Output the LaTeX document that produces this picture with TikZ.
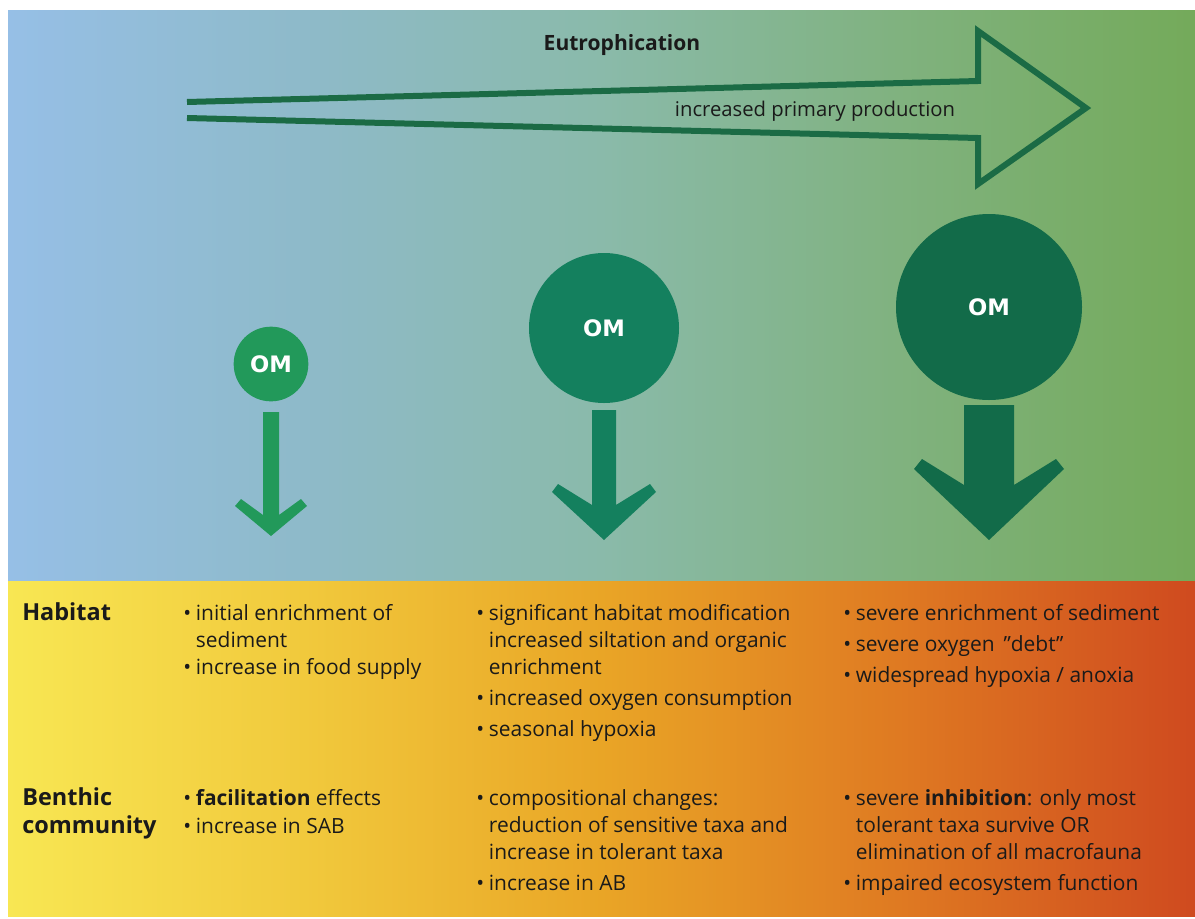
\documentclass[tikz,border=0pt]{standalone}
\usepackage{fontspec}
\setmainfont{Open Sans}
\newfontfamily\omfont{DejaVu Sans}
\definecolor{tA}{HTML}{96BFE6}
\definecolor{tB}{HTML}{8EBAC9}
\definecolor{tC}{HTML}{8ABAAA}
\definecolor{tD}{HTML}{80B27F}
\definecolor{tE}{HTML}{74AA5A}
\definecolor{bA}{HTML}{F8E753}
\definecolor{bB}{HTML}{F1C93C}
\definecolor{bC}{HTML}{E9A526}
\definecolor{bD}{HTML}{DF7A22}
\definecolor{bE}{HTML}{CF4A1F}
\definecolor{omS}{HTML}{22995A}
\definecolor{omM}{HTML}{14805E}
\definecolor{omL}{HTML}{126B49}
\definecolor{bigarrow}{HTML}{1B6B45}
\definecolor{ink}{HTML}{1A1A1A}
\pgfdeclarehorizontalshading{topgrad}{100bp}{color(0bp)=(tA); color(25bp)=(tA); color(37.5bp)=(tB); color(50bp)=(tC); color(62.5bp)=(tD); color(75bp)=(tE); color(100bp)=(tE)}
\pgfdeclarehorizontalshading{botgrad}{100bp}{color(0bp)=(bA); color(25bp)=(bA); color(37.5bp)=(bB); color(50bp)=(bC); color(62.5bp)=(bD); color(75bp)=(bE); color(100bp)=(bE)}
\newcommand\mybul{\makebox[9.5pt][l]{\textbullet}}
\tikzset{
  body/.style={anchor=base west, inner sep=0pt, text=ink, font=\fontsize{15.7}{18}\selectfont},
  lab/.style={anchor=base west, inner sep=0pt, text=ink, font=\fontsize{17.6}{20}\selectfont\bfseries},
  omc/.style={circle, inner sep=0pt, text=white, font=\omfont\fontsize{17}{20}\selectfont\bfseries},
}
\begin{document}
\begin{tikzpicture}[x=0.75pt,y=-0.75pt]
\useasboundingbox (0,0) rectangle (1195,918);
\fill[white] (0,0) rectangle (1195,918);
% panels
\fill[shading=topgrad] (8,10) rectangle (1195,581);
\fill[shading=botgrad] (8,581) rectangle (1195,916);
% eutrophication arrow
\draw[bigarrow, line width=4.5pt, line join=miter]
  (187,118) -- (978,138) -- (978,184) -- (1086,108) -- (978,31) -- (978,81) -- (187,102);
\node[inner sep=0pt, text=ink, font=\fontsize{15.8}{18}\selectfont\bfseries] (eut) at (622,45) {Eutrophication};
\node[inner sep=0pt, text=ink, font=\fontsize{15.2}{18}\selectfont] (ipp) at (815,111) {increased primary production};
% OM circles
\node[omc, fill=omS, minimum size=56pt] (omS) at (271,364) {OM};
\node[omc, fill=omM, minimum size=112.5pt] (omM) at (604,328) {OM};
\node[omc, fill=omL, minimum size=139.5pt] (omL) at (989,307) {OM};
% downward arrows
\fill[omS] (263,412) -- (263,515) -- (241,499) -- (235,506) -- (271,536) -- (307,506) -- (301,499) -- (279,515) -- (279,412) -- cycle;
\fill[omM] (592,410) -- (592,505) -- (558,484) -- (552,492) -- (604,540) -- (656,492) -- (650,484) -- (616,505) -- (616,410) -- cycle;
\fill[omL] (964,405) -- (964,485) -- (922,459) -- (914,469) -- (989,540) -- (1064,469) -- (1056,459) -- (1014,485) -- (1014,405) -- cycle;
% labels
\node[lab] (habitat) at (22,620) {Habitat};
\node[lab] (benthic) at (22,805) {Benthic};
\node[lab] (community) at (22,833) {community};
% column 1
\node[body] (a1) at (183,620) {\mybul initial enrichment of};
\node[body] (a2) at (195.7,647) {sediment};
\node[body] (a3) at (183,674) {\mybul increase in food supply};
\node[body] (a4) at (183,805) {\mybul\textbf{facilitation} effects};
\node[body] (a5) at (183,833) {\mybul increase in SAB};
% column 2
\node[body] (b1) at (476,620) {\mybul significant habitat modification};
\node[body] (b2) at (488.7,647) {increased siltation and organic};
\node[body] (b3) at (488.7,674) {enrichment};
\node[body] (b4) at (476,705) {\mybul increased oxygen consumption};
\node[body] (b5) at (476,736) {\mybul seasonal hypoxia};
\node[body] (b6) at (476,805) {\mybul compositional changes:};
\node[body] (b7) at (488.7,832) {reduction of sensitive taxa and};
\node[body] (b8) at (488.7,859) {increase in tolerant taxa};
\node[body] (b9) at (476,890) {\mybul increase in AB};
% column 3
\node[body] (c1) at (843,620) {\mybul severe enrichment of sediment};
\node[body] (c2) at (843,651) {\mybul severe oxygen \,\textquotedblright debt\textquotedblright};
\node[body] (c3) at (843,682) {\mybul widespread hypoxia / anoxia};
\node[body] (c4) at (843,805) {\mybul severe \textbf{inhibition}: only most};
\node[body] (c5) at (855.7,832) {tolerant taxa survive OR};
\node[body] (c6) at (855.7,859) {elimination of all macrofauna};
\node[body] (c7) at (843,890) {\mybul impaired ecosystem function};
\end{tikzpicture}
\end{document}
